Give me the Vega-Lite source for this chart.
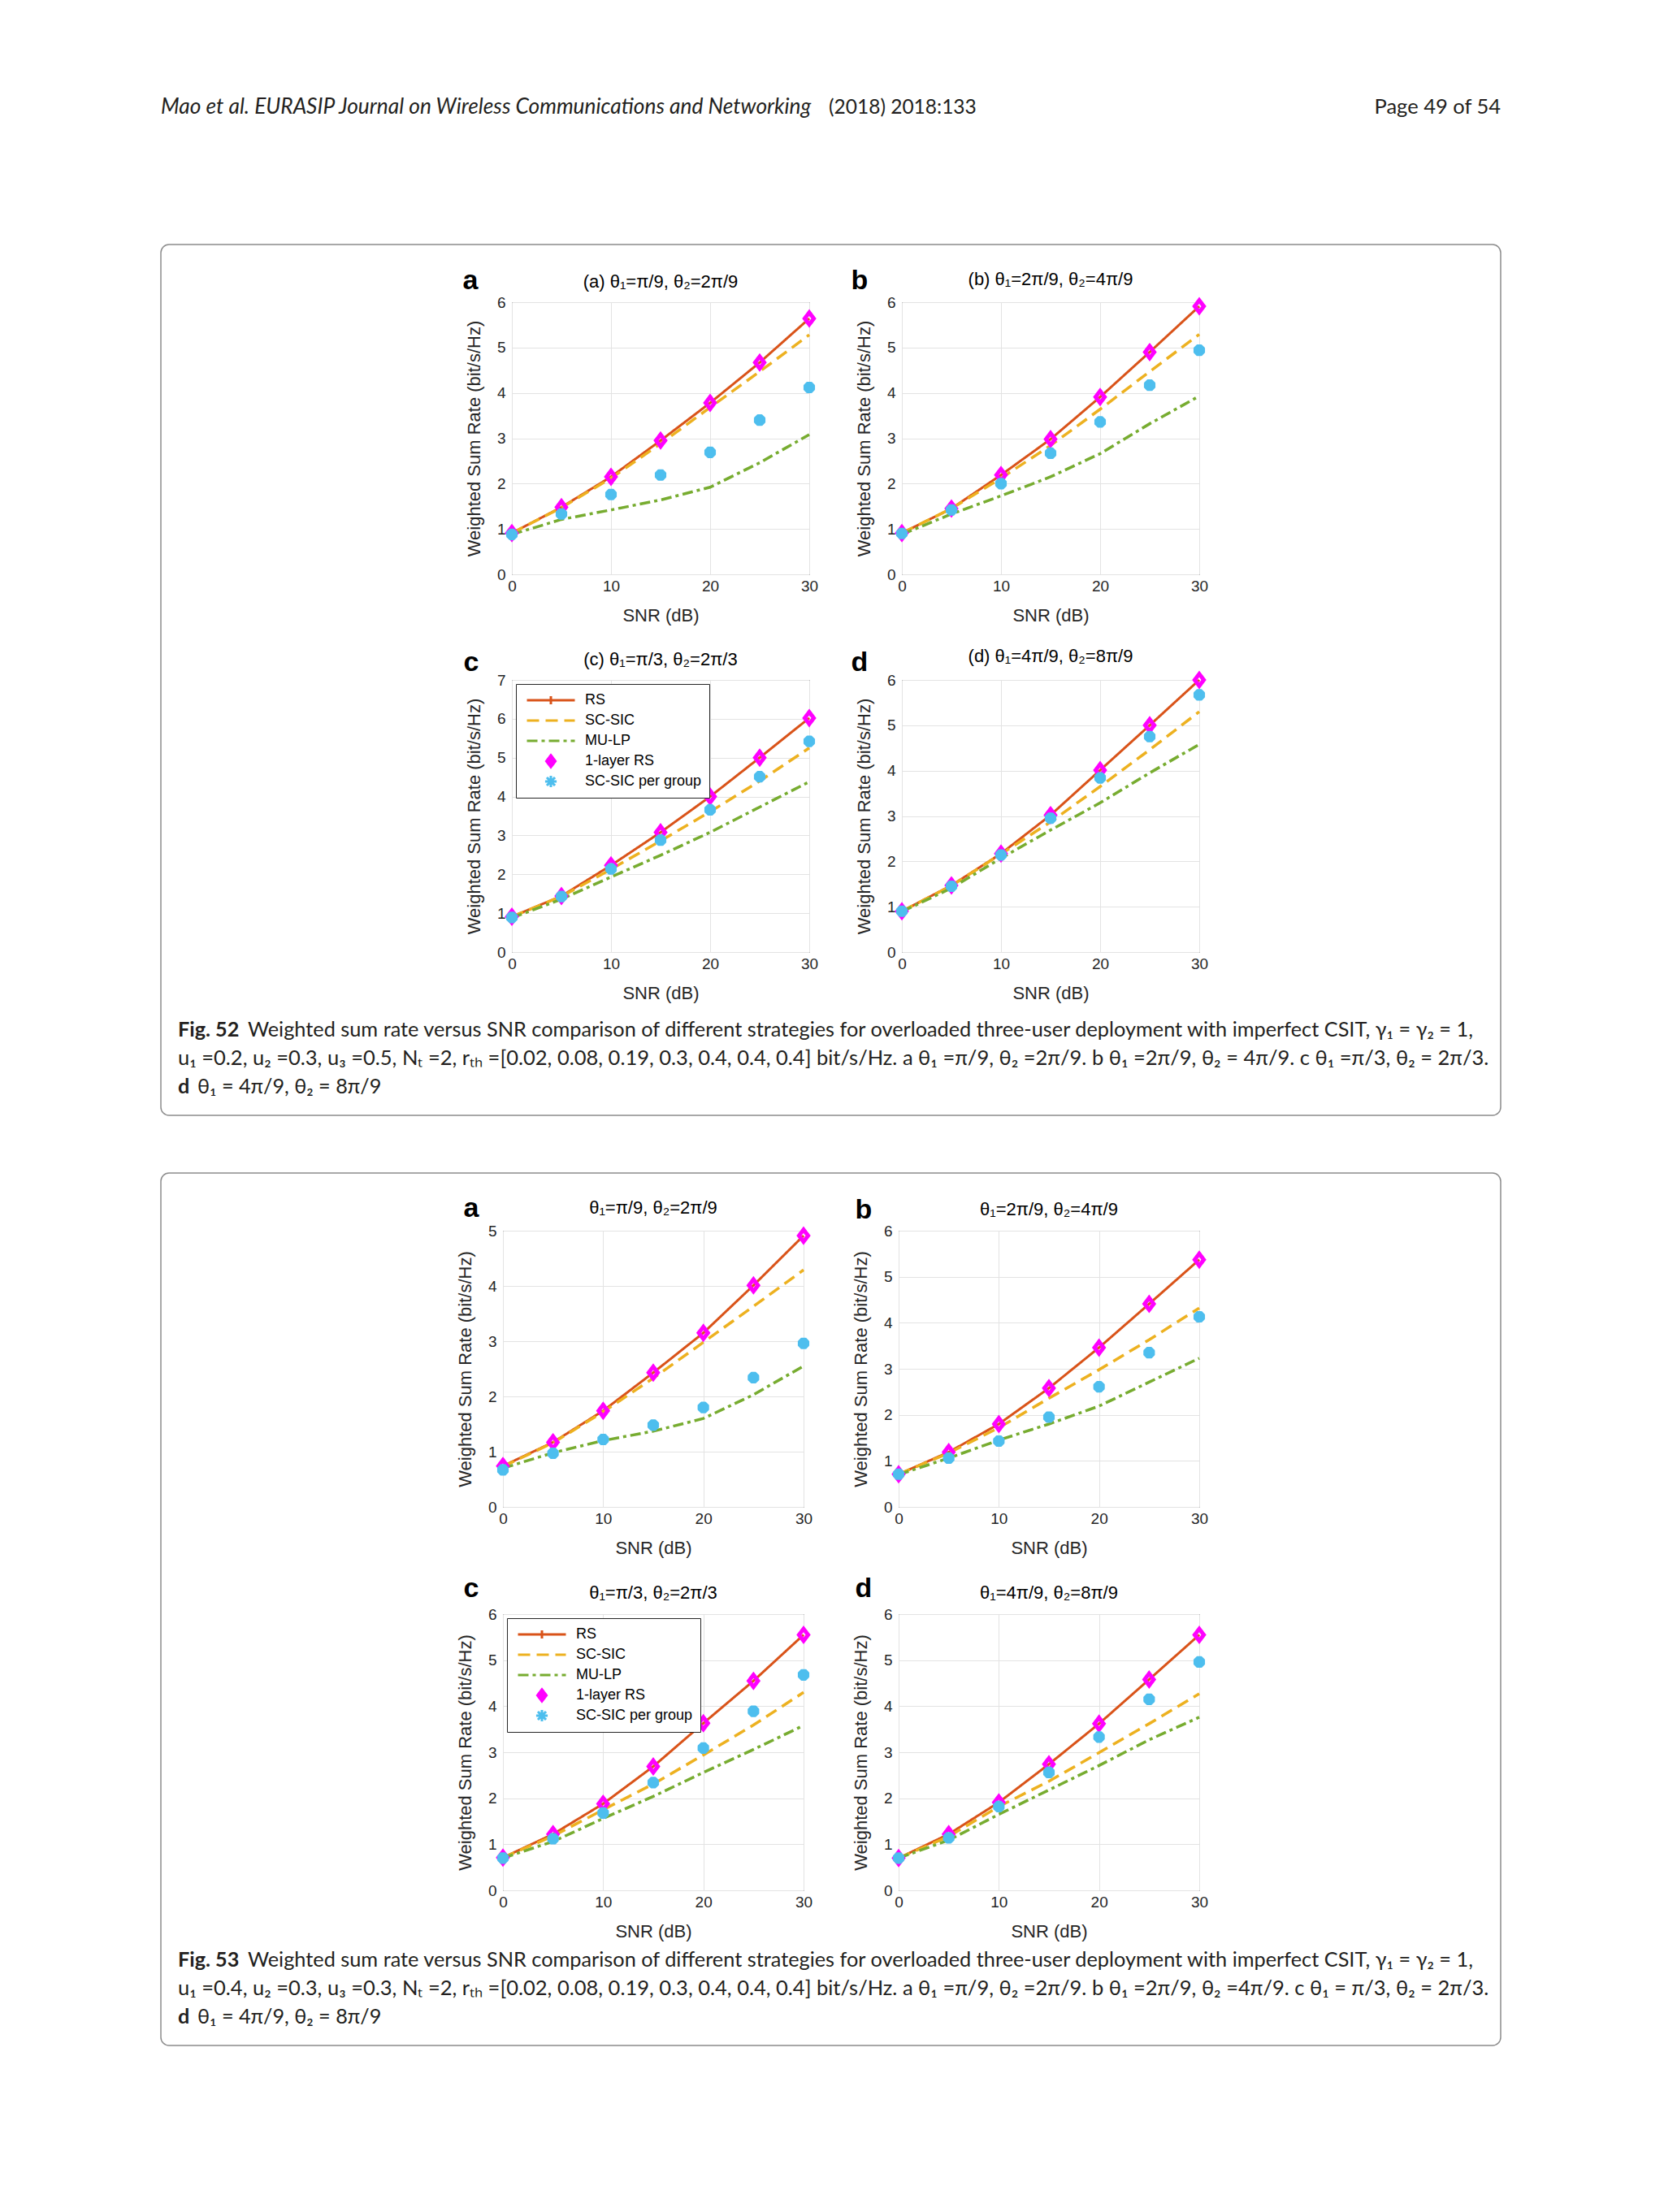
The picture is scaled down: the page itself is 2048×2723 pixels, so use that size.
{
  "$schema": "https://vega.github.io/schema/vega-lite/v6.json",
  "background": "white",
  "padding": {"left": 197, "top": 0, "right": 0, "bottom": 0},
  "config": {
    "view": {"stroke": "#262626", "strokeWidth": 1},
    "font": "Liberation Sans",
    "axis": {"labelFont": "Liberation Sans", "labelFontSize": 19, "labelColor": "#262626", "labelAngle": 0, "titleFont": "Liberation Sans", "titleFontSize": 22, "titleFontWeight": "normal", "titleColor": "#262626", "grid": true, "gridColor": "#e3e3e3", "gridWidth": 1, "domain": false, "ticks": false, "labelFlush": false},
    "axisX": {"labelPadding": 5, "titlePadding": 16},
    "axisY": {"labelPadding": 8, "titlePadding": 16},
    "title": {"font": "Liberation Sans", "fontSize": 22, "fontWeight": "normal", "color": "#000000", "anchor": "middle", "frame": "group", "offset": 4},
    "legend": {"orient": "top-left", "offset": 5, "padding": 9, "fillColor": "white", "strokeColor": "#262626", "cornerRadius": 0, "labelFont": "Liberation Sans", "labelFontSize": 18, "labelColor": "#000000", "symbolSize": 3481, "symbolStrokeWidth": 3, "symbolFillColor": "white", "symbolOffset": 3, "labelOffset": 11, "rowPadding": 3, "clipHeight": 22}
  },
  "datasets": {
    "pts": [
      {"p":"52a","m":"RS","snr":0,"rate":0.91},{"p":"52a","m":"RS","snr":5,"rate":1.48},{"p":"52a","m":"RS","snr":10,"rate":2.15},{"p":"52a","m":"RS","snr":15,"rate":2.95},{"p":"52a","m":"RS","snr":20,"rate":3.78},{"p":"52a","m":"RS","snr":25,"rate":4.67},{"p":"52a","m":"RS","snr":30,"rate":5.64},
      {"p":"52a","m":"SC-SIC","snr":0,"rate":0.91},{"p":"52a","m":"SC-SIC","snr":5,"rate":1.47},{"p":"52a","m":"SC-SIC","snr":10,"rate":2.12},{"p":"52a","m":"SC-SIC","snr":15,"rate":2.88},{"p":"52a","m":"SC-SIC","snr":20,"rate":3.68},{"p":"52a","m":"SC-SIC","snr":25,"rate":4.47},{"p":"52a","m":"SC-SIC","snr":30,"rate":5.28},
      {"p":"52a","m":"MU-LP","snr":0,"rate":0.88},{"p":"52a","m":"MU-LP","snr":5,"rate":1.21},{"p":"52a","m":"MU-LP","snr":10,"rate":1.42},{"p":"52a","m":"MU-LP","snr":15,"rate":1.64},{"p":"52a","m":"MU-LP","snr":20,"rate":1.92},{"p":"52a","m":"MU-LP","snr":25,"rate":2.46},{"p":"52a","m":"MU-LP","snr":30,"rate":3.08},
      {"p":"52a","m":"1-layer RS","snr":0,"rate":0.91},{"p":"52a","m":"1-layer RS","snr":5,"rate":1.48},{"p":"52a","m":"1-layer RS","snr":10,"rate":2.15},{"p":"52a","m":"1-layer RS","snr":15,"rate":2.95},{"p":"52a","m":"1-layer RS","snr":20,"rate":3.78},{"p":"52a","m":"1-layer RS","snr":25,"rate":4.67},{"p":"52a","m":"1-layer RS","snr":30,"rate":5.64},
      {"p":"52a","m":"SC-SIC per group","snr":0,"rate":0.88},{"p":"52a","m":"SC-SIC per group","snr":5,"rate":1.33},{"p":"52a","m":"SC-SIC per group","snr":10,"rate":1.76},{"p":"52a","m":"SC-SIC per group","snr":15,"rate":2.19},{"p":"52a","m":"SC-SIC per group","snr":20,"rate":2.69},{"p":"52a","m":"SC-SIC per group","snr":25,"rate":3.40},{"p":"52a","m":"SC-SIC per group","snr":30,"rate":4.12},

      {"p":"52b","m":"RS","snr":0,"rate":0.91},{"p":"52b","m":"RS","snr":5,"rate":1.45},{"p":"52b","m":"RS","snr":10,"rate":2.19},{"p":"52b","m":"RS","snr":15,"rate":2.98},{"p":"52b","m":"RS","snr":20,"rate":3.91},{"p":"52b","m":"RS","snr":25,"rate":4.90},{"p":"52b","m":"RS","snr":30,"rate":5.91},
      {"p":"52b","m":"SC-SIC","snr":0,"rate":0.91},{"p":"52b","m":"SC-SIC","snr":5,"rate":1.45},{"p":"52b","m":"SC-SIC","snr":10,"rate":2.12},{"p":"52b","m":"SC-SIC","snr":15,"rate":2.84},{"p":"52b","m":"SC-SIC","snr":20,"rate":3.64},{"p":"52b","m":"SC-SIC","snr":25,"rate":4.47},{"p":"52b","m":"SC-SIC","snr":30,"rate":5.29},
      {"p":"52b","m":"MU-LP","snr":0,"rate":0.88},{"p":"52b","m":"MU-LP","snr":5,"rate":1.33},{"p":"52b","m":"MU-LP","snr":10,"rate":1.73},{"p":"52b","m":"MU-LP","snr":15,"rate":2.15},{"p":"52b","m":"MU-LP","snr":20,"rate":2.66},{"p":"52b","m":"MU-LP","snr":25,"rate":3.32},{"p":"52b","m":"MU-LP","snr":30,"rate":3.93},
      {"p":"52b","m":"1-layer RS","snr":0,"rate":0.91},{"p":"52b","m":"1-layer RS","snr":5,"rate":1.45},{"p":"52b","m":"1-layer RS","snr":10,"rate":2.19},{"p":"52b","m":"1-layer RS","snr":15,"rate":2.98},{"p":"52b","m":"1-layer RS","snr":20,"rate":3.91},{"p":"52b","m":"1-layer RS","snr":25,"rate":4.90},{"p":"52b","m":"1-layer RS","snr":30,"rate":5.91},
      {"p":"52b","m":"SC-SIC per group","snr":0,"rate":0.90},{"p":"52b","m":"SC-SIC per group","snr":5,"rate":1.42},{"p":"52b","m":"SC-SIC per group","snr":10,"rate":2.00},{"p":"52b","m":"SC-SIC per group","snr":15,"rate":2.67},{"p":"52b","m":"SC-SIC per group","snr":20,"rate":3.36},{"p":"52b","m":"SC-SIC per group","snr":25,"rate":4.17},{"p":"52b","m":"SC-SIC per group","snr":30,"rate":4.94},

      {"p":"52c","m":"RS","snr":0,"rate":0.91},{"p":"52c","m":"RS","snr":5,"rate":1.44},{"p":"52c","m":"RS","snr":10,"rate":2.23},{"p":"52c","m":"RS","snr":15,"rate":3.08},{"p":"52c","m":"RS","snr":20,"rate":4.00},{"p":"52c","m":"RS","snr":25,"rate":5.00},{"p":"52c","m":"RS","snr":30,"rate":6.02},
      {"p":"52c","m":"SC-SIC","snr":0,"rate":0.91},{"p":"52c","m":"SC-SIC","snr":5,"rate":1.43},{"p":"52c","m":"SC-SIC","snr":10,"rate":2.13},{"p":"52c","m":"SC-SIC","snr":15,"rate":2.86},{"p":"52c","m":"SC-SIC","snr":20,"rate":3.61},{"p":"52c","m":"SC-SIC","snr":25,"rate":4.40},{"p":"52c","m":"SC-SIC","snr":30,"rate":5.25},
      {"p":"52c","m":"MU-LP","snr":0,"rate":0.88},{"p":"52c","m":"MU-LP","snr":5,"rate":1.36},{"p":"52c","m":"MU-LP","snr":10,"rate":1.93},{"p":"52c","m":"MU-LP","snr":15,"rate":2.49},{"p":"52c","m":"MU-LP","snr":20,"rate":3.08},{"p":"52c","m":"MU-LP","snr":25,"rate":3.73},{"p":"52c","m":"MU-LP","snr":30,"rate":4.38},
      {"p":"52c","m":"1-layer RS","snr":0,"rate":0.91},{"p":"52c","m":"1-layer RS","snr":5,"rate":1.44},{"p":"52c","m":"1-layer RS","snr":10,"rate":2.23},{"p":"52c","m":"1-layer RS","snr":15,"rate":3.08},{"p":"52c","m":"1-layer RS","snr":20,"rate":4.00},{"p":"52c","m":"1-layer RS","snr":25,"rate":5.00},{"p":"52c","m":"1-layer RS","snr":30,"rate":6.02},
      {"p":"52c","m":"SC-SIC per group","snr":0,"rate":0.89},{"p":"52c","m":"SC-SIC per group","snr":5,"rate":1.43},{"p":"52c","m":"SC-SIC per group","snr":10,"rate":2.14},{"p":"52c","m":"SC-SIC per group","snr":15,"rate":2.88},{"p":"52c","m":"SC-SIC per group","snr":20,"rate":3.66},{"p":"52c","m":"SC-SIC per group","snr":25,"rate":4.51},{"p":"52c","m":"SC-SIC per group","snr":30,"rate":5.42},

      {"p":"52d","m":"RS","snr":0,"rate":0.90},{"p":"52d","m":"RS","snr":5,"rate":1.47},{"p":"52d","m":"RS","snr":10,"rate":2.17},{"p":"52d","m":"RS","snr":15,"rate":3.02},{"p":"52d","m":"RS","snr":20,"rate":4.01},{"p":"52d","m":"RS","snr":25,"rate":5.00},{"p":"52d","m":"RS","snr":30,"rate":6.00},
      {"p":"52d","m":"SC-SIC","snr":0,"rate":0.90},{"p":"52d","m":"SC-SIC","snr":5,"rate":1.46},{"p":"52d","m":"SC-SIC","snr":10,"rate":2.16},{"p":"52d","m":"SC-SIC","snr":15,"rate":2.87},{"p":"52d","m":"SC-SIC","snr":20,"rate":3.65},{"p":"52d","m":"SC-SIC","snr":25,"rate":4.46},{"p":"52d","m":"SC-SIC","snr":30,"rate":5.30},
      {"p":"52d","m":"MU-LP","snr":0,"rate":0.89},{"p":"52d","m":"MU-LP","snr":5,"rate":1.41},{"p":"52d","m":"MU-LP","snr":10,"rate":2.07},{"p":"52d","m":"MU-LP","snr":15,"rate":2.69},{"p":"52d","m":"MU-LP","snr":20,"rate":3.29},{"p":"52d","m":"MU-LP","snr":25,"rate":3.95},{"p":"52d","m":"MU-LP","snr":30,"rate":4.58},
      {"p":"52d","m":"1-layer RS","snr":0,"rate":0.90},{"p":"52d","m":"1-layer RS","snr":5,"rate":1.47},{"p":"52d","m":"1-layer RS","snr":10,"rate":2.17},{"p":"52d","m":"1-layer RS","snr":15,"rate":3.02},{"p":"52d","m":"1-layer RS","snr":20,"rate":4.01},{"p":"52d","m":"1-layer RS","snr":25,"rate":5.00},{"p":"52d","m":"1-layer RS","snr":30,"rate":6.00},
      {"p":"52d","m":"SC-SIC per group","snr":0,"rate":0.90},{"p":"52d","m":"SC-SIC per group","snr":5,"rate":1.45},{"p":"52d","m":"SC-SIC per group","snr":10,"rate":2.14},{"p":"52d","m":"SC-SIC per group","snr":15,"rate":2.95},{"p":"52d","m":"SC-SIC per group","snr":20,"rate":3.84},{"p":"52d","m":"SC-SIC per group","snr":25,"rate":4.75},{"p":"52d","m":"SC-SIC per group","snr":30,"rate":5.67},

      {"p":"53a","m":"RS","snr":0,"rate":0.74},{"p":"53a","m":"RS","snr":5,"rate":1.17},{"p":"53a","m":"RS","snr":10,"rate":1.74},{"p":"53a","m":"RS","snr":15,"rate":2.43},{"p":"53a","m":"RS","snr":20,"rate":3.15},{"p":"53a","m":"RS","snr":25,"rate":4.01},{"p":"53a","m":"RS","snr":30,"rate":4.91},
      {"p":"53a","m":"SC-SIC","snr":0,"rate":0.73},{"p":"53a","m":"SC-SIC","snr":5,"rate":1.16},{"p":"53a","m":"SC-SIC","snr":10,"rate":1.72},{"p":"53a","m":"SC-SIC","snr":15,"rate":2.33},{"p":"53a","m":"SC-SIC","snr":20,"rate":2.98},{"p":"53a","m":"SC-SIC","snr":25,"rate":3.63},{"p":"53a","m":"SC-SIC","snr":30,"rate":4.29},
      {"p":"53a","m":"MU-LP","snr":0,"rate":0.70},{"p":"53a","m":"MU-LP","snr":5,"rate":0.98},{"p":"53a","m":"MU-LP","snr":10,"rate":1.20},{"p":"53a","m":"MU-LP","snr":15,"rate":1.37},{"p":"53a","m":"MU-LP","snr":20,"rate":1.60},{"p":"53a","m":"MU-LP","snr":25,"rate":2.03},{"p":"53a","m":"MU-LP","snr":30,"rate":2.55},
      {"p":"53a","m":"1-layer RS","snr":0,"rate":0.74},{"p":"53a","m":"1-layer RS","snr":5,"rate":1.17},{"p":"53a","m":"1-layer RS","snr":10,"rate":1.74},{"p":"53a","m":"1-layer RS","snr":15,"rate":2.43},{"p":"53a","m":"1-layer RS","snr":20,"rate":3.15},{"p":"53a","m":"1-layer RS","snr":25,"rate":4.01},{"p":"53a","m":"1-layer RS","snr":30,"rate":4.91},
      {"p":"53a","m":"SC-SIC per group","snr":0,"rate":0.67},{"p":"53a","m":"SC-SIC per group","snr":5,"rate":0.97},{"p":"53a","m":"SC-SIC per group","snr":10,"rate":1.22},{"p":"53a","m":"SC-SIC per group","snr":15,"rate":1.48},{"p":"53a","m":"SC-SIC per group","snr":20,"rate":1.80},{"p":"53a","m":"SC-SIC per group","snr":25,"rate":2.34},{"p":"53a","m":"SC-SIC per group","snr":30,"rate":2.96},

      {"p":"53b","m":"RS","snr":0,"rate":0.71},{"p":"53b","m":"RS","snr":5,"rate":1.19},{"p":"53b","m":"RS","snr":10,"rate":1.80},{"p":"53b","m":"RS","snr":15,"rate":2.58},{"p":"53b","m":"RS","snr":20,"rate":3.46},{"p":"53b","m":"RS","snr":25,"rate":4.41},{"p":"53b","m":"RS","snr":30,"rate":5.37},
      {"p":"53b","m":"SC-SIC","snr":0,"rate":0.71},{"p":"53b","m":"SC-SIC","snr":5,"rate":1.17},{"p":"53b","m":"SC-SIC","snr":10,"rate":1.72},{"p":"53b","m":"SC-SIC","snr":15,"rate":2.36},{"p":"53b","m":"SC-SIC","snr":20,"rate":2.98},{"p":"53b","m":"SC-SIC","snr":25,"rate":3.63},{"p":"53b","m":"SC-SIC","snr":30,"rate":4.32},
      {"p":"53b","m":"MU-LP","snr":0,"rate":0.70},{"p":"53b","m":"MU-LP","snr":5,"rate":1.06},{"p":"53b","m":"MU-LP","snr":10,"rate":1.45},{"p":"53b","m":"MU-LP","snr":15,"rate":1.80},{"p":"53b","m":"MU-LP","snr":20,"rate":2.19},{"p":"53b","m":"MU-LP","snr":25,"rate":2.71},{"p":"53b","m":"MU-LP","snr":30,"rate":3.23},
      {"p":"53b","m":"1-layer RS","snr":0,"rate":0.71},{"p":"53b","m":"1-layer RS","snr":5,"rate":1.19},{"p":"53b","m":"1-layer RS","snr":10,"rate":1.80},{"p":"53b","m":"1-layer RS","snr":15,"rate":2.58},{"p":"53b","m":"1-layer RS","snr":20,"rate":3.46},{"p":"53b","m":"1-layer RS","snr":25,"rate":4.41},{"p":"53b","m":"1-layer RS","snr":30,"rate":5.37},
      {"p":"53b","m":"SC-SIC per group","snr":0,"rate":0.71},{"p":"53b","m":"SC-SIC per group","snr":5,"rate":1.06},{"p":"53b","m":"SC-SIC per group","snr":10,"rate":1.43},{"p":"53b","m":"SC-SIC per group","snr":15,"rate":1.95},{"p":"53b","m":"SC-SIC per group","snr":20,"rate":2.61},{"p":"53b","m":"SC-SIC per group","snr":25,"rate":3.35},{"p":"53b","m":"SC-SIC per group","snr":30,"rate":4.13},

      {"p":"53c","m":"RS","snr":0,"rate":0.71},{"p":"53c","m":"RS","snr":5,"rate":1.22},{"p":"53c","m":"RS","snr":10,"rate":1.88},{"p":"53c","m":"RS","snr":15,"rate":2.69},{"p":"53c","m":"RS","snr":20,"rate":3.63},{"p":"53c","m":"RS","snr":25,"rate":4.55},{"p":"53c","m":"RS","snr":30,"rate":5.55},
      {"p":"53c","m":"SC-SIC","snr":0,"rate":0.71},{"p":"53c","m":"SC-SIC","snr":5,"rate":1.18},{"p":"53c","m":"SC-SIC","snr":10,"rate":1.75},{"p":"53c","m":"SC-SIC","snr":15,"rate":2.31},{"p":"53c","m":"SC-SIC","snr":20,"rate":2.94},{"p":"53c","m":"SC-SIC","snr":25,"rate":3.59},{"p":"53c","m":"SC-SIC","snr":30,"rate":4.30},
      {"p":"53c","m":"MU-LP","snr":0,"rate":0.70},{"p":"53c","m":"MU-LP","snr":5,"rate":1.06},{"p":"53c","m":"MU-LP","snr":10,"rate":1.56},{"p":"53c","m":"MU-LP","snr":15,"rate":2.04},{"p":"53c","m":"MU-LP","snr":20,"rate":2.56},{"p":"53c","m":"MU-LP","snr":25,"rate":3.06},{"p":"53c","m":"MU-LP","snr":30,"rate":3.58},
      {"p":"53c","m":"1-layer RS","snr":0,"rate":0.71},{"p":"53c","m":"1-layer RS","snr":5,"rate":1.22},{"p":"53c","m":"1-layer RS","snr":10,"rate":1.88},{"p":"53c","m":"1-layer RS","snr":15,"rate":2.69},{"p":"53c","m":"1-layer RS","snr":20,"rate":3.63},{"p":"53c","m":"1-layer RS","snr":25,"rate":4.55},{"p":"53c","m":"1-layer RS","snr":30,"rate":5.55},
      {"p":"53c","m":"SC-SIC per group","snr":0,"rate":0.70},{"p":"53c","m":"SC-SIC per group","snr":5,"rate":1.12},{"p":"53c","m":"SC-SIC per group","snr":10,"rate":1.68},{"p":"53c","m":"SC-SIC per group","snr":15,"rate":2.34},{"p":"53c","m":"SC-SIC per group","snr":20,"rate":3.09},{"p":"53c","m":"SC-SIC per group","snr":25,"rate":3.89},{"p":"53c","m":"SC-SIC per group","snr":30,"rate":4.68},

      {"p":"53d","m":"RS","snr":0,"rate":0.70},{"p":"53d","m":"RS","snr":5,"rate":1.22},{"p":"53d","m":"RS","snr":10,"rate":1.91},{"p":"53d","m":"RS","snr":15,"rate":2.74},{"p":"53d","m":"RS","snr":20,"rate":3.62},{"p":"53d","m":"RS","snr":25,"rate":4.58},{"p":"53d","m":"RS","snr":30,"rate":5.55},
      {"p":"53d","m":"SC-SIC","snr":0,"rate":0.70},{"p":"53d","m":"SC-SIC","snr":5,"rate":1.17},{"p":"53d","m":"SC-SIC","snr":10,"rate":1.82},{"p":"53d","m":"SC-SIC","snr":15,"rate":2.37},{"p":"53d","m":"SC-SIC","snr":20,"rate":2.99},{"p":"53d","m":"SC-SIC","snr":25,"rate":3.62},{"p":"53d","m":"SC-SIC","snr":30,"rate":4.27},
      {"p":"53d","m":"MU-LP","snr":0,"rate":0.70},{"p":"53d","m":"MU-LP","snr":5,"rate":1.09},{"p":"53d","m":"MU-LP","snr":10,"rate":1.65},{"p":"53d","m":"MU-LP","snr":15,"rate":2.18},{"p":"53d","m":"MU-LP","snr":20,"rate":2.71},{"p":"53d","m":"MU-LP","snr":25,"rate":3.27},{"p":"53d","m":"MU-LP","snr":30,"rate":3.76},
      {"p":"53d","m":"1-layer RS","snr":0,"rate":0.70},{"p":"53d","m":"1-layer RS","snr":5,"rate":1.22},{"p":"53d","m":"1-layer RS","snr":10,"rate":1.91},{"p":"53d","m":"1-layer RS","snr":15,"rate":2.74},{"p":"53d","m":"1-layer RS","snr":20,"rate":3.62},{"p":"53d","m":"1-layer RS","snr":25,"rate":4.58},{"p":"53d","m":"1-layer RS","snr":30,"rate":5.55},
      {"p":"53d","m":"SC-SIC per group","snr":0,"rate":0.70},{"p":"53d","m":"SC-SIC per group","snr":5,"rate":1.14},{"p":"53d","m":"SC-SIC per group","snr":10,"rate":1.82},{"p":"53d","m":"SC-SIC per group","snr":15,"rate":2.56},{"p":"53d","m":"SC-SIC per group","snr":20,"rate":3.33},{"p":"53d","m":"SC-SIC per group","snr":25,"rate":4.15},{"p":"53d","m":"SC-SIC per group","snr":30,"rate":4.96}
    ]
  },
  "spacing": 69,
  "resolve": {"scale": {"color": "independent", "shape": "independent", "strokeDash": "independent"}},
  "vconcat": [
    {
      "width": 1649, "height": 231, "view": {"stroke": null},
      "layer": [
        {"data": {"values": [{"t": "Mao et al. EURASIP Journal on Wireless Communications and Networking"}]}, "mark": {"type": "text", "x": 0, "y": 140, "align": "left", "baseline": "alphabetic", "font": "Lato", "fontStyle": "italic", "fontSize": 26.3, "color": "#231f20"}, "encoding": {"text": {"field": "t"}}},
        {"data": {"values": [{"t": "(2018) 2018:133"}]}, "mark": {"type": "text", "x": 822, "y": 140, "align": "left", "baseline": "alphabetic", "font": "Lato", "fontSize": 24.5, "color": "#231f20"}, "encoding": {"text": {"field": "t"}}},
        {"data": {"values": [{"t": "Page 49 of 54"}]}, "mark": {"type": "text", "x": "width", "y": 140, "align": "right", "baseline": "alphabetic", "font": "Lato", "fontSize": 25.5, "color": "#231f20"}, "encoding": {"text": {"field": "t"}}}
      ]
    },
    {
      "columns": 3,
      "bounds": "flush",
      "align": {"row": "each", "column": "none"},
      "spacing": {"row": 0, "column": 114},
      "resolve": {"scale": {"color": "independent", "shape": "independent", "strokeDash": "independent"}},
      "concat": [
        {
          "width": 318, "height": 465, "view": {"stroke": null},
          "layer": [
            {"data": {"values": [{"k": 1}]}, "mark": {"type": "rect", "x": 0, "x2": 1649, "y": -71, "y2": 1001, "fill": "transparent", "stroke": "#8c8c8c", "strokeWidth": 1.5, "cornerRadius": 10}, "encoding": {}},
            {"data": {"values": [{"l": "a"}]}, "mark": {"type": "text", "x": 381, "y": -16, "font": "Liberation Sans", "fontSize": 34, "fontWeight": "bold", "align": "center", "baseline": "alphabetic", "color": "#000000"}, "encoding": {"text": {"field": "l"}}},
            {"data": {"values": [{"l": "b"}]}, "mark": {"type": "text", "x": 860, "y": -16, "font": "Liberation Sans", "fontSize": 34, "fontWeight": "bold", "align": "center", "baseline": "alphabetic", "color": "#000000"}, "encoding": {"text": {"field": "l"}}}
          ]
        },
        {
          "width": 366, "height": 335,
          "title": "(a) θ₁=π/9, θ₂=2π/9",
          "data": {"name": "pts"},
          "transform": [{"filter": "datum.p === '52a'"}],
          "encoding": {
            "x": {"field": "snr", "type": "quantitative", "scale": {"domain": [0, 30], "nice": false}, "axis": {"values": [0, 10, 20, 30], "title": "SNR (dB)"}},
            "y": {"field": "rate", "type": "quantitative", "scale": {"domain": [0, 6], "nice": false}, "axis": {"values": [0, 1, 2, 3, 4, 5, 6], "title": "Weighted Sum Rate (bit/s/Hz)"}},
            "color": {"field": "m", "type": "nominal", "scale": {"domain": ["RS", "SC-SIC", "MU-LP", "1-layer RS", "SC-SIC per group"], "range": ["#D95319", "#EDB120", "#77AC30", "#FF00FF", "#4DBEEE"]}, "legend": null},
            "shape": {"field": "m", "type": "nominal", "scale": {"domain": ["RS", "SC-SIC", "MU-LP", "1-layer RS", "SC-SIC per group"], "range": ["M-1,0L1,0M0,-0.17L0,0.17", "M-1,0L1,0", "M-1,0L1,0", "M0,-0.25L0.19,0L0,0.25L-0.19,0Z", "M-0.24,0L0.24,0M0,-0.24L0,0.24M-0.17,-0.17L0.17,0.17M-0.17,0.17L0.17,-0.17"]}, "legend": null},
            "strokeDash": {"field": "m", "type": "nominal", "scale": {"domain": ["RS", "SC-SIC", "MU-LP", "1-layer RS", "SC-SIC per group"], "range": [[1, 0], [15, 8], [13, 5, 4, 5], [1, 0], [1, 0]]}, "legend": null}
          },
          "layer": [
            {"transform": [{"filter": "datum.m === 'RS'"}], "mark": {"type": "line", "strokeWidth": 3}},
            {"transform": [{"filter": "datum.m === 'SC-SIC'"}], "mark": {"type": "line", "strokeWidth": 3.5}},
            {"transform": [{"filter": "datum.m === 'MU-LP'"}], "mark": {"type": "line", "strokeWidth": 3.5}},
            {"transform": [{"filter": "datum.m === '1-layer RS'"}], "mark": {"type": "point", "filled": false, "size": 3481, "strokeWidth": 5, "opacity": 1}},
            {"transform": [{"filter": "datum.m === 'SC-SIC per group'"}], "mark": {"type": "point", "filled": false, "size": 3481, "strokeWidth": 5.5, "opacity": 1}}
          ]
        },
        {
          "width": 366, "height": 335,
          "title": "(b) θ₁=2π/9, θ₂=4π/9",
          "data": {"name": "pts"},
          "transform": [{"filter": "datum.p === '52b'"}],
          "encoding": {
            "x": {"field": "snr", "type": "quantitative", "scale": {"domain": [0, 30], "nice": false}, "axis": {"values": [0, 10, 20, 30], "title": "SNR (dB)"}},
            "y": {"field": "rate", "type": "quantitative", "scale": {"domain": [0, 6], "nice": false}, "axis": {"values": [0, 1, 2, 3, 4, 5, 6], "title": "Weighted Sum Rate (bit/s/Hz)"}},
            "color": {"field": "m", "type": "nominal", "scale": {"domain": ["RS", "SC-SIC", "MU-LP", "1-layer RS", "SC-SIC per group"], "range": ["#D95319", "#EDB120", "#77AC30", "#FF00FF", "#4DBEEE"]}, "legend": null},
            "shape": {"field": "m", "type": "nominal", "scale": {"domain": ["RS", "SC-SIC", "MU-LP", "1-layer RS", "SC-SIC per group"], "range": ["M-1,0L1,0M0,-0.17L0,0.17", "M-1,0L1,0", "M-1,0L1,0", "M0,-0.25L0.19,0L0,0.25L-0.19,0Z", "M-0.24,0L0.24,0M0,-0.24L0,0.24M-0.17,-0.17L0.17,0.17M-0.17,0.17L0.17,-0.17"]}, "legend": null},
            "strokeDash": {"field": "m", "type": "nominal", "scale": {"domain": ["RS", "SC-SIC", "MU-LP", "1-layer RS", "SC-SIC per group"], "range": [[1, 0], [15, 8], [13, 5, 4, 5], [1, 0], [1, 0]]}, "legend": null}
          },
          "layer": [
            {"transform": [{"filter": "datum.m === 'RS'"}], "mark": {"type": "line", "strokeWidth": 3}},
            {"transform": [{"filter": "datum.m === 'SC-SIC'"}], "mark": {"type": "line", "strokeWidth": 3.5}},
            {"transform": [{"filter": "datum.m === 'MU-LP'"}], "mark": {"type": "line", "strokeWidth": 3.5}},
            {"transform": [{"filter": "datum.m === '1-layer RS'"}], "mark": {"type": "point", "filled": false, "size": 3481, "strokeWidth": 5, "opacity": 1}},
            {"transform": [{"filter": "datum.m === 'SC-SIC per group'"}], "mark": {"type": "point", "filled": false, "size": 3481, "strokeWidth": 5.5, "opacity": 1}}
          ]
        },
        {
          "width": 318, "height": 439, "view": {"stroke": null},
          "layer": [
            {"data": {"values": [{"l": "c"}]}, "mark": {"type": "text", "x": 382, "y": -11, "font": "Liberation Sans", "fontSize": 34, "fontWeight": "bold", "align": "center", "baseline": "alphabetic", "color": "#000000"}, "encoding": {"text": {"field": "l"}}},
            {"data": {"values": [{"l": "d"}]}, "mark": {"type": "text", "x": 860, "y": -11, "font": "Liberation Sans", "fontSize": 34, "fontWeight": "bold", "align": "center", "baseline": "alphabetic", "color": "#000000"}, "encoding": {"text": {"field": "l"}}}
          ]
        },
        {
          "width": 366, "height": 335,
          "title": "(c) θ₁=π/3, θ₂=2π/3",
          "data": {"name": "pts"},
          "transform": [{"filter": "datum.p === '52c'"}],
          "encoding": {
            "x": {"field": "snr", "type": "quantitative", "scale": {"domain": [0, 30], "nice": false}, "axis": {"values": [0, 10, 20, 30], "title": "SNR (dB)"}},
            "y": {"field": "rate", "type": "quantitative", "scale": {"domain": [0, 7], "nice": false}, "axis": {"values": [0, 1, 2, 3, 4, 5, 6, 7], "title": "Weighted Sum Rate (bit/s/Hz)"}},
            "color": {"field": "m", "type": "nominal", "scale": {"domain": ["RS", "SC-SIC", "MU-LP", "1-layer RS", "SC-SIC per group"], "range": ["#D95319", "#EDB120", "#77AC30", "#FF00FF", "#4DBEEE"]}, "legend": {"title": null}},
            "shape": {"field": "m", "type": "nominal", "scale": {"domain": ["RS", "SC-SIC", "MU-LP", "1-layer RS", "SC-SIC per group"], "range": ["M-1,0L1,0M0,-0.17L0,0.17", "M-1,0L1,0", "M-1,0L1,0", "M0,-0.25L0.19,0L0,0.25L-0.19,0Z", "M-0.24,0L0.24,0M0,-0.24L0,0.24M-0.17,-0.17L0.17,0.17M-0.17,0.17L0.17,-0.17"]}, "legend": {"title": null}},
            "strokeDash": {"field": "m", "type": "nominal", "scale": {"domain": ["RS", "SC-SIC", "MU-LP", "1-layer RS", "SC-SIC per group"], "range": [[1, 0], [15, 8], [13, 5, 4, 5], [1, 0], [1, 0]]}, "legend": {"title": null}}
          },
          "layer": [
            {"transform": [{"filter": "datum.m === 'RS'"}], "mark": {"type": "line", "strokeWidth": 3}},
            {"transform": [{"filter": "datum.m === 'SC-SIC'"}], "mark": {"type": "line", "strokeWidth": 3.5}},
            {"transform": [{"filter": "datum.m === 'MU-LP'"}], "mark": {"type": "line", "strokeWidth": 3.5}},
            {"transform": [{"filter": "datum.m === '1-layer RS'"}], "mark": {"type": "point", "filled": false, "size": 3481, "strokeWidth": 5, "opacity": 1}},
            {"transform": [{"filter": "datum.m === 'SC-SIC per group'"}], "mark": {"type": "point", "filled": false, "size": 3481, "strokeWidth": 5.5, "opacity": 1}}
          ]
        },
        {
          "width": 366, "height": 335,
          "title": {"text": "(d) θ₁=4π/9, θ₂=8π/9", "offset": 0},
          "data": {"name": "pts"},
          "transform": [{"filter": "datum.p === '52d'"}],
          "encoding": {
            "x": {"field": "snr", "type": "quantitative", "scale": {"domain": [0, 30], "nice": false}, "axis": {"values": [0, 10, 20, 30], "title": "SNR (dB)"}},
            "y": {"field": "rate", "type": "quantitative", "scale": {"domain": [0, 6], "nice": false}, "axis": {"values": [0, 1, 2, 3, 4, 5, 6], "title": "Weighted Sum Rate (bit/s/Hz)"}},
            "color": {"field": "m", "type": "nominal", "scale": {"domain": ["RS", "SC-SIC", "MU-LP", "1-layer RS", "SC-SIC per group"], "range": ["#D95319", "#EDB120", "#77AC30", "#FF00FF", "#4DBEEE"]}, "legend": null},
            "shape": {"field": "m", "type": "nominal", "scale": {"domain": ["RS", "SC-SIC", "MU-LP", "1-layer RS", "SC-SIC per group"], "range": ["M-1,0L1,0M0,-0.17L0,0.17", "M-1,0L1,0", "M-1,0L1,0", "M0,-0.25L0.19,0L0,0.25L-0.19,0Z", "M-0.24,0L0.24,0M0,-0.24L0,0.24M-0.17,-0.17L0.17,0.17M-0.17,0.17L0.17,-0.17"]}, "legend": null},
            "strokeDash": {"field": "m", "type": "nominal", "scale": {"domain": ["RS", "SC-SIC", "MU-LP", "1-layer RS", "SC-SIC per group"], "range": [[1, 0], [15, 8], [13, 5, 4, 5], [1, 0], [1, 0]]}, "legend": null}
          },
          "layer": [
            {"transform": [{"filter": "datum.m === 'RS'"}], "mark": {"type": "line", "strokeWidth": 3}},
            {"transform": [{"filter": "datum.m === 'SC-SIC'"}], "mark": {"type": "line", "strokeWidth": 3.5}},
            {"transform": [{"filter": "datum.m === 'MU-LP'"}], "mark": {"type": "line", "strokeWidth": 3.5}},
            {"transform": [{"filter": "datum.m === '1-layer RS'"}], "mark": {"type": "point", "filled": false, "size": 3481, "strokeWidth": 5, "opacity": 1}},
            {"transform": [{"filter": "datum.m === 'SC-SIC per group'"}], "mark": {"type": "point", "filled": false, "size": 3481, "strokeWidth": 5.5, "opacity": 1}}
          ]
        },
        {
          "width": 318, "height": 60, "view": {"stroke": null},
          "layer": [
            {"data": {"values": [{"t": "Fig. 52"}]}, "mark": {"type": "text", "x": 21, "y": 0, "align": "left", "baseline": "alphabetic", "font": "Lato", "fontSize": 25.2, "fontWeight": "bold", "color": "#231f20"}, "encoding": {"text": {"field": "t"}}},
            {"data": {"values": [{"t": "Weighted sum rate versus SNR comparison of different strategies for overloaded three-user deployment with imperfect CSIT, γ₁ = γ₂ = 1,"}]}, "mark": {"type": "text", "x": 107, "y": 0, "align": "left", "baseline": "alphabetic", "font": "Lato", "fontSize": 25.3, "color": "#231f20"}, "encoding": {"text": {"field": "t"}}},
            {"data": {"values": [{"t": "u₁ =0.2, u₂ =0.3, u₃ =0.5, Nₜ =2, rₜₕ =[0.02, 0.08, 0.19, 0.3, 0.4, 0.4, 0.4] bit/s/Hz. a θ₁ =π/9, θ₂ =2π/9. b θ₁ =2π/9, θ₂ = 4π/9. c θ₁ =π/3, θ₂ = 2π/3."}]}, "mark": {"type": "text", "x": 21, "y": 35, "align": "left", "baseline": "alphabetic", "font": "Lato", "fontSize": 25.5, "color": "#231f20"}, "encoding": {"text": {"field": "t"}}},
            {"data": {"values": [{"t": "d"}]}, "mark": {"type": "text", "x": 21, "y": 70, "align": "left", "baseline": "alphabetic", "font": "Lato", "fontSize": 25.2, "fontWeight": "bold", "color": "#231f20"}, "encoding": {"text": {"field": "t"}}},
            {"data": {"values": [{"t": "θ₁ = 4π/9, θ₂ = 8π/9"}]}, "mark": {"type": "text", "x": 45, "y": 70, "align": "left", "baseline": "alphabetic", "font": "Lato", "fontSize": 25.2, "color": "#231f20"}, "encoding": {"text": {"field": "t"}}}
          ]
        }
      ]
    },
    {
      "columns": 3,
      "bounds": "flush",
      "align": {"row": "each", "column": "none"},
      "spacing": {"row": 0, "column": 117},
      "resolve": {"scale": {"color": "independent", "shape": "independent", "strokeDash": "independent"}},
      "concat": [
        {
          "width": 304, "height": 472, "view": {"stroke": null},
          "layer": [
            {"data": {"values": [{"k": 1}]}, "mark": {"type": "rect", "x": 0, "x2": 1649, "y": -71, "y2": 1003, "fill": "transparent", "stroke": "#8c8c8c", "strokeWidth": 1.5, "cornerRadius": 10}, "encoding": {}},
            {"data": {"values": [{"l": "a"}]}, "mark": {"type": "text", "x": 382, "y": -17, "font": "Liberation Sans", "fontSize": 34, "fontWeight": "bold", "align": "center", "baseline": "alphabetic", "color": "#000000"}, "encoding": {"text": {"field": "l"}}},
            {"data": {"values": [{"l": "b"}]}, "mark": {"type": "text", "x": 865, "y": -15, "font": "Liberation Sans", "fontSize": 34, "fontWeight": "bold", "align": "center", "baseline": "alphabetic", "color": "#000000"}, "encoding": {"text": {"field": "l"}}}
          ]
        },
        {
          "width": 370, "height": 340,
          "title": {"text": "θ₁=π/9, θ₂=2π/9", "offset": 5},
          "data": {"name": "pts"},
          "transform": [{"filter": "datum.p === '53a'"}],
          "encoding": {
            "x": {"field": "snr", "type": "quantitative", "scale": {"domain": [0, 30], "nice": false}, "axis": {"values": [0, 10, 20, 30], "title": "SNR (dB)"}},
            "y": {"field": "rate", "type": "quantitative", "scale": {"domain": [0, 5], "nice": false}, "axis": {"values": [0, 1, 2, 3, 4, 5], "title": "Weighted Sum Rate (bit/s/Hz)"}},
            "color": {"field": "m", "type": "nominal", "scale": {"domain": ["RS", "SC-SIC", "MU-LP", "1-layer RS", "SC-SIC per group"], "range": ["#D95319", "#EDB120", "#77AC30", "#FF00FF", "#4DBEEE"]}, "legend": null},
            "shape": {"field": "m", "type": "nominal", "scale": {"domain": ["RS", "SC-SIC", "MU-LP", "1-layer RS", "SC-SIC per group"], "range": ["M-1,0L1,0M0,-0.17L0,0.17", "M-1,0L1,0", "M-1,0L1,0", "M0,-0.25L0.19,0L0,0.25L-0.19,0Z", "M-0.24,0L0.24,0M0,-0.24L0,0.24M-0.17,-0.17L0.17,0.17M-0.17,0.17L0.17,-0.17"]}, "legend": null},
            "strokeDash": {"field": "m", "type": "nominal", "scale": {"domain": ["RS", "SC-SIC", "MU-LP", "1-layer RS", "SC-SIC per group"], "range": [[1, 0], [15, 8], [13, 5, 4, 5], [1, 0], [1, 0]]}, "legend": null}
          },
          "layer": [
            {"transform": [{"filter": "datum.m === 'RS'"}], "mark": {"type": "line", "strokeWidth": 3}},
            {"transform": [{"filter": "datum.m === 'SC-SIC'"}], "mark": {"type": "line", "strokeWidth": 3.5}},
            {"transform": [{"filter": "datum.m === 'MU-LP'"}], "mark": {"type": "line", "strokeWidth": 3.5}},
            {"transform": [{"filter": "datum.m === '1-layer RS'"}], "mark": {"type": "point", "filled": false, "size": 3481, "strokeWidth": 5, "opacity": 1}},
            {"transform": [{"filter": "datum.m === 'SC-SIC per group'"}], "mark": {"type": "point", "filled": false, "size": 3481, "strokeWidth": 5.5, "opacity": 1}}
          ]
        },
        {
          "width": 370, "height": 340,
          "title": {"text": "θ₁=2π/9, θ₂=4π/9", "offset": 5},
          "data": {"name": "pts"},
          "transform": [{"filter": "datum.p === '53b'"}],
          "encoding": {
            "x": {"field": "snr", "type": "quantitative", "scale": {"domain": [0, 30], "nice": false}, "axis": {"values": [0, 10, 20, 30], "title": "SNR (dB)"}},
            "y": {"field": "rate", "type": "quantitative", "scale": {"domain": [0, 6], "nice": false}, "axis": {"values": [0, 1, 2, 3, 4, 5, 6], "title": "Weighted Sum Rate (bit/s/Hz)"}},
            "color": {"field": "m", "type": "nominal", "scale": {"domain": ["RS", "SC-SIC", "MU-LP", "1-layer RS", "SC-SIC per group"], "range": ["#D95319", "#EDB120", "#77AC30", "#FF00FF", "#4DBEEE"]}, "legend": null},
            "shape": {"field": "m", "type": "nominal", "scale": {"domain": ["RS", "SC-SIC", "MU-LP", "1-layer RS", "SC-SIC per group"], "range": ["M-1,0L1,0M0,-0.17L0,0.17", "M-1,0L1,0", "M-1,0L1,0", "M0,-0.25L0.19,0L0,0.25L-0.19,0Z", "M-0.24,0L0.24,0M0,-0.24L0,0.24M-0.17,-0.17L0.17,0.17M-0.17,0.17L0.17,-0.17"]}, "legend": null},
            "strokeDash": {"field": "m", "type": "nominal", "scale": {"domain": ["RS", "SC-SIC", "MU-LP", "1-layer RS", "SC-SIC per group"], "range": [[1, 0], [15, 8], [13, 5, 4, 5], [1, 0], [1, 0]]}, "legend": null}
          },
          "layer": [
            {"transform": [{"filter": "datum.m === 'RS'"}], "mark": {"type": "line", "strokeWidth": 3}},
            {"transform": [{"filter": "datum.m === 'SC-SIC'"}], "mark": {"type": "line", "strokeWidth": 3.5}},
            {"transform": [{"filter": "datum.m === 'MU-LP'"}], "mark": {"type": "line", "strokeWidth": 3.5}},
            {"transform": [{"filter": "datum.m === '1-layer RS'"}], "mark": {"type": "point", "filled": false, "size": 3481, "strokeWidth": 5, "opacity": 1}},
            {"transform": [{"filter": "datum.m === 'SC-SIC per group'"}], "mark": {"type": "point", "filled": false, "size": 3481, "strokeWidth": 5.5, "opacity": 1}}
          ]
        },
        {
          "width": 304, "height": 434, "view": {"stroke": null},
          "layer": [
            {"data": {"values": [{"l": "c"}]}, "mark": {"type": "text", "x": 382, "y": -21, "font": "Liberation Sans", "fontSize": 34, "fontWeight": "bold", "align": "center", "baseline": "alphabetic", "color": "#000000"}, "encoding": {"text": {"field": "l"}}},
            {"data": {"values": [{"l": "d"}]}, "mark": {"type": "text", "x": 865, "y": -21, "font": "Liberation Sans", "fontSize": 34, "fontWeight": "bold", "align": "center", "baseline": "alphabetic", "color": "#000000"}, "encoding": {"text": {"field": "l"}}}
          ]
        },
        {
          "width": 370, "height": 340,
          "title": {"text": "θ₁=π/3, θ₂=2π/3", "offset": 5},
          "data": {"name": "pts"},
          "transform": [{"filter": "datum.p === '53c'"}],
          "encoding": {
            "x": {"field": "snr", "type": "quantitative", "scale": {"domain": [0, 30], "nice": false}, "axis": {"values": [0, 10, 20, 30], "title": "SNR (dB)"}},
            "y": {"field": "rate", "type": "quantitative", "scale": {"domain": [0, 6], "nice": false}, "axis": {"values": [0, 1, 2, 3, 4, 5, 6], "title": "Weighted Sum Rate (bit/s/Hz)"}},
            "color": {"field": "m", "type": "nominal", "scale": {"domain": ["RS", "SC-SIC", "MU-LP", "1-layer RS", "SC-SIC per group"], "range": ["#D95319", "#EDB120", "#77AC30", "#FF00FF", "#4DBEEE"]}, "legend": {"title": null}},
            "shape": {"field": "m", "type": "nominal", "scale": {"domain": ["RS", "SC-SIC", "MU-LP", "1-layer RS", "SC-SIC per group"], "range": ["M-1,0L1,0M0,-0.17L0,0.17", "M-1,0L1,0", "M-1,0L1,0", "M0,-0.25L0.19,0L0,0.25L-0.19,0Z", "M-0.24,0L0.24,0M0,-0.24L0,0.24M-0.17,-0.17L0.17,0.17M-0.17,0.17L0.17,-0.17"]}, "legend": {"title": null}},
            "strokeDash": {"field": "m", "type": "nominal", "scale": {"domain": ["RS", "SC-SIC", "MU-LP", "1-layer RS", "SC-SIC per group"], "range": [[1, 0], [15, 8], [13, 5, 4, 5], [1, 0], [1, 0]]}, "legend": {"title": null}}
          },
          "layer": [
            {"transform": [{"filter": "datum.m === 'RS'"}], "mark": {"type": "line", "strokeWidth": 3}},
            {"transform": [{"filter": "datum.m === 'SC-SIC'"}], "mark": {"type": "line", "strokeWidth": 3.5}},
            {"transform": [{"filter": "datum.m === 'MU-LP'"}], "mark": {"type": "line", "strokeWidth": 3.5}},
            {"transform": [{"filter": "datum.m === '1-layer RS'"}], "mark": {"type": "point", "filled": false, "size": 3481, "strokeWidth": 5, "opacity": 1}},
            {"transform": [{"filter": "datum.m === 'SC-SIC per group'"}], "mark": {"type": "point", "filled": false, "size": 3481, "strokeWidth": 5.5, "opacity": 1}}
          ]
        },
        {
          "width": 370, "height": 340,
          "title": {"text": "θ₁=4π/9, θ₂=8π/9", "offset": 5},
          "data": {"name": "pts"},
          "transform": [{"filter": "datum.p === '53d'"}],
          "encoding": {
            "x": {"field": "snr", "type": "quantitative", "scale": {"domain": [0, 30], "nice": false}, "axis": {"values": [0, 10, 20, 30], "title": "SNR (dB)"}},
            "y": {"field": "rate", "type": "quantitative", "scale": {"domain": [0, 6], "nice": false}, "axis": {"values": [0, 1, 2, 3, 4, 5, 6], "title": "Weighted Sum Rate (bit/s/Hz)"}},
            "color": {"field": "m", "type": "nominal", "scale": {"domain": ["RS", "SC-SIC", "MU-LP", "1-layer RS", "SC-SIC per group"], "range": ["#D95319", "#EDB120", "#77AC30", "#FF00FF", "#4DBEEE"]}, "legend": null},
            "shape": {"field": "m", "type": "nominal", "scale": {"domain": ["RS", "SC-SIC", "MU-LP", "1-layer RS", "SC-SIC per group"], "range": ["M-1,0L1,0M0,-0.17L0,0.17", "M-1,0L1,0", "M-1,0L1,0", "M0,-0.25L0.19,0L0,0.25L-0.19,0Z", "M-0.24,0L0.24,0M0,-0.24L0,0.24M-0.17,-0.17L0.17,0.17M-0.17,0.17L0.17,-0.17"]}, "legend": null},
            "strokeDash": {"field": "m", "type": "nominal", "scale": {"domain": ["RS", "SC-SIC", "MU-LP", "1-layer RS", "SC-SIC per group"], "range": [[1, 0], [15, 8], [13, 5, 4, 5], [1, 0], [1, 0]]}, "legend": null}
          },
          "layer": [
            {"transform": [{"filter": "datum.m === 'RS'"}], "mark": {"type": "line", "strokeWidth": 3}},
            {"transform": [{"filter": "datum.m === 'SC-SIC'"}], "mark": {"type": "line", "strokeWidth": 3.5}},
            {"transform": [{"filter": "datum.m === 'MU-LP'"}], "mark": {"type": "line", "strokeWidth": 3.5}},
            {"transform": [{"filter": "datum.m === '1-layer RS'"}], "mark": {"type": "point", "filled": false, "size": 3481, "strokeWidth": 5, "opacity": 1}},
            {"transform": [{"filter": "datum.m === 'SC-SIC per group'"}], "mark": {"type": "point", "filled": false, "size": 3481, "strokeWidth": 5.5, "opacity": 1}}
          ]
        },
        {
          "width": 304, "height": 60, "view": {"stroke": null},
          "layer": [
            {"data": {"values": [{"t": "Fig. 53"}]}, "mark": {"type": "text", "x": 21, "y": 0, "align": "left", "baseline": "alphabetic", "font": "Lato", "fontSize": 25.2, "fontWeight": "bold", "color": "#231f20"}, "encoding": {"text": {"field": "t"}}},
            {"data": {"values": [{"t": "Weighted sum rate versus SNR comparison of different strategies for overloaded three-user deployment with imperfect CSIT, γ₁ = γ₂ = 1,"}]}, "mark": {"type": "text", "x": 107, "y": 0, "align": "left", "baseline": "alphabetic", "font": "Lato", "fontSize": 25.3, "color": "#231f20"}, "encoding": {"text": {"field": "t"}}},
            {"data": {"values": [{"t": "u₁ =0.4, u₂ =0.3, u₃ =0.3, Nₜ =2, rₜₕ =[0.02, 0.08, 0.19, 0.3, 0.4, 0.4, 0.4] bit/s/Hz. a θ₁ =π/9, θ₂ =2π/9. b θ₁ =2π/9, θ₂ =4π/9. c θ₁ = π/3, θ₂ = 2π/3."}]}, "mark": {"type": "text", "x": 21, "y": 35, "align": "left", "baseline": "alphabetic", "font": "Lato", "fontSize": 25.5, "color": "#231f20"}, "encoding": {"text": {"field": "t"}}},
            {"data": {"values": [{"t": "d"}]}, "mark": {"type": "text", "x": 21, "y": 70, "align": "left", "baseline": "alphabetic", "font": "Lato", "fontSize": 25.2, "fontWeight": "bold", "color": "#231f20"}, "encoding": {"text": {"field": "t"}}},
            {"data": {"values": [{"t": "θ₁ = 4π/9, θ₂ = 8π/9"}]}, "mark": {"type": "text", "x": 45, "y": 70, "align": "left", "baseline": "alphabetic", "font": "Lato", "fontSize": 25.2, "color": "#231f20"}, "encoding": {"text": {"field": "t"}}}
          ]
        }
      ]
    }
  ]
}
